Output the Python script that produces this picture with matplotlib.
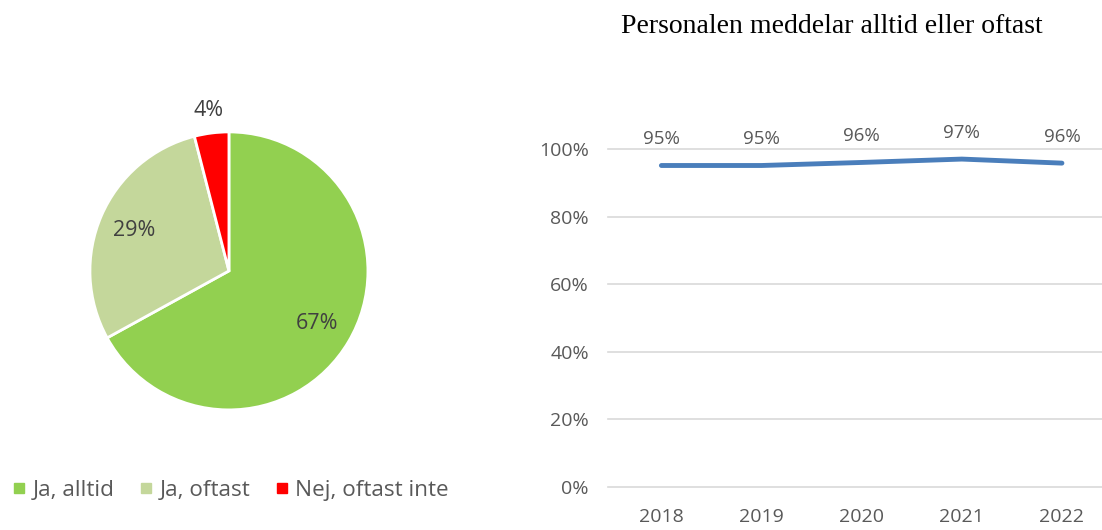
import matplotlib.pyplot as plt
from matplotlib.lines import Line2D
import numpy as np

# pie data
pie_labels = ["Ja, alltid", "Ja, oftast", "Nej, oftast inte"]
pie_values = [67, 29, 4]
pie_colors = ["#92d050", "#c4d79b", "#ff0000"]

# line data
years = ["2018", "2019", "2020", "2021", "2022"]
share = [95.1, 95.1, 96.0, 97.0, 95.8]
share_labels = ["95%", "95%", "96%", "97%", "96%"]
yticks = [0, 20, 40, 60, 80, 100]

grey = "#595959"
plt.rcParams["font.family"] = ["Open Sans", "DejaVu Sans"]

fig = plt.figure(figsize=(11.02, 5.30), dpi=100)

# --- pie ---
ax1 = fig.add_axes([0.0501, 0.161, 0.3153, 0.6557])
wedges, texts, autotexts = ax1.pie(
    pie_values, colors=pie_colors, startangle=90, counterclock=False,
    autopct="%d%%", pctdistance=0.74,
    wedgeprops=dict(edgecolor="white", linewidth=2),
    textprops=dict(color="#404040", fontsize=15.5))
# small slice label goes outside
w = wedges[2]
ang = np.deg2rad((w.theta1 + w.theta2) / 2)
autotexts[2].set_position((1.16 * np.cos(ang), 1.16 * np.sin(ang)))
ax1.set_xlim(-1.25, 1.25)
ax1.set_ylim(-1.25, 1.25)
ax1.set_aspect("equal")

handles = [Line2D([], [], marker="s", linestyle="", markersize=7,
                  markerfacecolor=c, markeredgecolor=c) for c in pie_colors]
leg = fig.legend(handles, pie_labels, loc="center left", bbox_to_anchor=(-0.008, 0.075),
                 ncol=3, frameon=False, fontsize=16.2, handletextpad=0.25,
                 columnspacing=1.05, handlelength=0.7)
for t in leg.get_texts():
    t.set_color(grey)

# --- line ---
ax2 = fig.add_axes([0.552, 0.081, 0.448, 0.638])
x = np.arange(len(years))
ax2.plot(x, share, color="#4a7ebb", linewidth=3.5, solid_capstyle="round")
for xi, yi, lab in zip(x, share, share_labels):
    ax2.annotate(lab, (xi, yi), xytext=(0, 19), textcoords="offset points",
                 ha="center", va="center", color=grey, fontsize=13.5)
ax2.set_xlim(-0.53, 4.40)
ax2.set_ylim(0, 100)
ax2.set_yticks(yticks)
ax2.set_yticklabels([f"{v}%" for v in yticks])
ax2.set_xticks(x)
ax2.set_xticklabels(years)
ax2.grid(axis="y", color="#d9d9d9", linewidth=1.2)
for gl in ax2.get_ygridlines():
    gl.set_clip_on(False)
ax2.set_axisbelow(True)
for s in ax2.spines.values():
    s.set_visible(False)
ax2.tick_params(length=0, colors=grey, labelsize=14)
ax2.tick_params(axis="y", pad=14)
ax2.tick_params(axis="x", pad=15)

fig.text(0.755, 0.95, "Personalen meddelar alltid eller oftast", ha="center",
         va="center", fontsize=20, family=["Liberation Serif", "DejaVu Serif"], color="black")

fig.savefig("out.png", dpi=100)
